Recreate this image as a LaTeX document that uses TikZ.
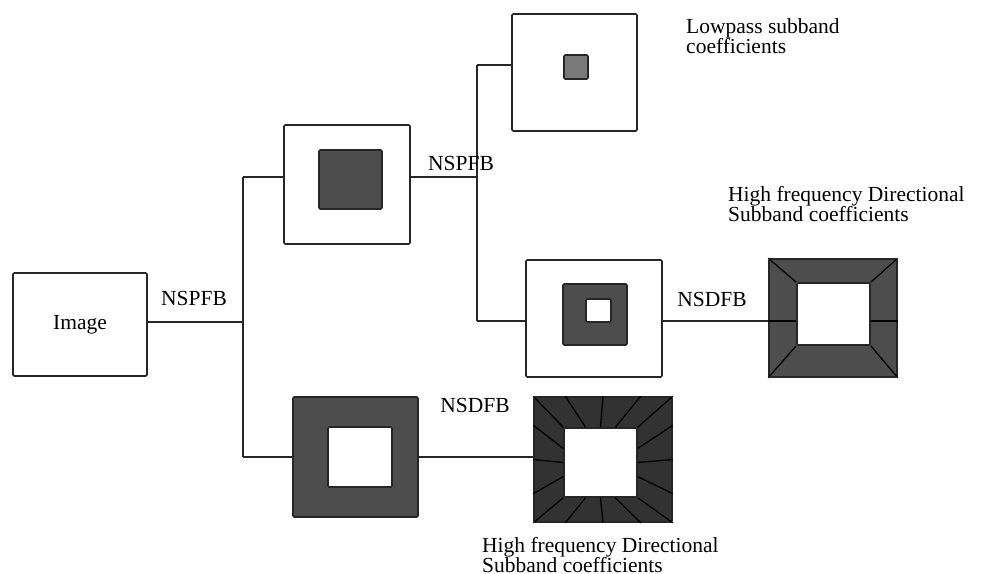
\documentclass[tikz,border=0pt]{standalone}
\usepackage{fontspec}
\setmainfont{Liberation Serif}
\usepackage{tikz}
\usetikzlibrary{calc}
\definecolor{fillgray}{HTML}{4D4D4D}
\definecolor{deepgray}{HTML}{323232}
\definecolor{lightgray}{HTML}{7A7A7A}
\definecolor{edgegray}{HTML}{262626}
\newcommand{\lblfont}{\fontsize{21.5}{20}\selectfont\lineskiplimit=-20pt\relax}
\tikzset{
  panel/.style={draw=edgegray, line width=1.6pt, rounded corners=1.2pt, inner sep=0pt, fill=white},
  wire/.style={draw=edgegray, line width=1.3pt},
  cut/.style={draw=black, line width=1.3pt},
  lbl/.style={font=\lblfont, inner sep=0pt},
}

\begin{document}
\begin{tikzpicture}[x=1pt, y=-1pt]
  \useasboundingbox (0,0) rectangle (985,573);

  % input and first stage
  \node[panel, lbl, minimum width=134pt, minimum height=103pt] at (80,324.5) (img) {Image};
  \node[panel, minimum width=126pt, minimum height=119pt] at (347,184.5) (band1) {};
  \node[panel, fill=fillgray, minimum width=63pt, minimum height=59pt] at (350.5,179.5) (band1in) {};
  \node[panel, fill=fillgray, minimum width=125pt, minimum height=120pt] at (355.5,457) (dir1) {};
  \node[panel, minimum width=64pt, minimum height=60pt] at (360,457) (dir1in) {};

  % second stage
  \node[panel, minimum width=125pt, minimum height=117pt] at (574.5,72.5) (low) {};
  \node[panel, fill=lightgray, minimum size=24pt] at (576,67) (lowin) {};
  \node[panel, minimum width=136pt, minimum height=117pt] at (594,318.5) (band2) {};
  \node[panel, fill=fillgray, minimum width=64pt, minimum height=61pt] at (595,314.5) (band2in) {};
  \node[panel, minimum width=25pt, minimum height=23pt] at (598.5,310.5) (band2hole) {};

  % directional subbands
  \node[panel, fill=fillgray, minimum width=128pt, minimum height=118pt] at (833,318) (sub1) {};
  \node[panel, minimum width=73pt, minimum height=62pt] at (833.5,314) (sub1in) {};
  \node[panel, fill=deepgray, minimum width=138pt, minimum height=125pt] at (603,459.5) (sub2) {};
  \node[panel, minimum width=73pt, minimum height=69pt] at (600.5,462.5) (sub2in) {};

  % branching points
  \coordinate (j1) at (243,322);
  \coordinate (t1) at (243,177);
  \coordinate (t2) at (243,457);
  \coordinate (s1) at (477,65);
  \coordinate (s2) at (477,321);

  \draw[wire] (j1 -| img.east) -- (j1);
  \draw[wire] (t1) -- (t2);
  \draw[wire] (t1) -- (t1 -| band1.west);
  \draw[wire] (t2) -- (t2 -| dir1.west);
  \draw[wire] (t1 -| band1.east) -- (t1 -| s1);
  \draw[wire] (s1) -- (s2);
  \draw[wire] (s1) -- (s1 -| low.west);
  \draw[wire] (s2) -- (s2 -| band2.west);
  \draw[wire] (s2 -| band2.east) -- (s2 -| sub1.west);
  \draw[wire] (t2 -| dir1.east) -- (t2 -| sub2.west);

  % wedges of the directional subbands
  \foreach \c in {north west, north east, south west, south east} {
    \draw[cut] (sub1.\c) -- (sub1in.\c);
    \draw[cut] (sub2.\c) -- (sub2in.\c);
  }
  \draw[cut] (s2 -| sub1.west) -- (s2 -| sub1in.west);
  \draw[cut] (s2 -| sub1in.east) -- (s2 -| sub1.east);
  \foreach \p/\q in {0.23/0.3, 0.5/0.5, 0.77/0.7} {
    \draw[cut] ($(sub2.north west)!\p!(sub2.north east)$) -- ($(sub2in.north west)!\q!(sub2in.north east)$);
    \draw[cut] ($(sub2.south west)!\p!(sub2.south east)$) -- ($(sub2in.south west)!\q!(sub2in.south east)$);
    \draw[cut] ($(sub2.north west)!\p!(sub2.south west)$) -- ($(sub2in.north west)!\q!(sub2in.south west)$);
    \draw[cut] ($(sub2.north east)!\p!(sub2.south east)$) -- ($(sub2in.north east)!\q!(sub2in.south east)$);
  }

  % labels
  \node[lbl] at (194,298) (pfb1) {NSPFB};
  \node[lbl] at (461,163) (pfb2) {NSPFB};
  \node[lbl] at (712,299) (dfb1) {NSDFB};
  \node[lbl] at (475,405) (dfb2) {NSDFB};
  \node[lbl, anchor=north west, align=left] at (686,18.5) (lowtxt) {Lowpass subband\\coefficients};
  \node[lbl, anchor=north west, align=left] at (728,186) (hf1) {High frequency Directional\\Subband coefficients};
  \node[lbl, anchor=north west, align=left] at (482,537) (hf2) {High frequency Directional\\Subband coefficients};
\end{tikzpicture}
\end{document}
